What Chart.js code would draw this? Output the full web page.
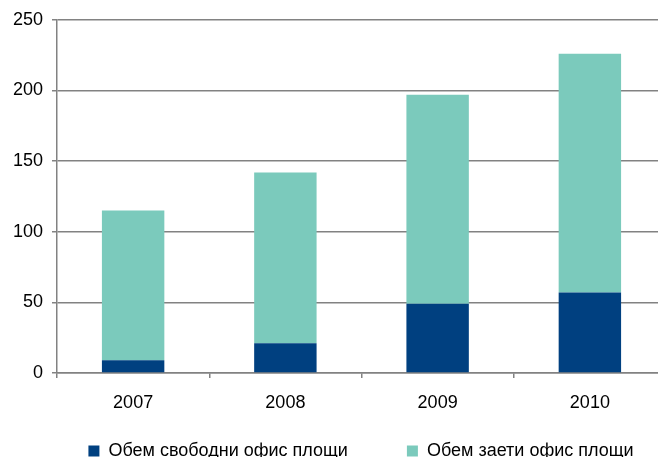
<!DOCTYPE html>
<html>
<head>
<meta charset="utf-8">
<script src="https://cdn.jsdelivr.net/npm/chart.js@4"></script>
<style>
  html, body { margin: 0; padding: 0; background: #fff; overflow: hidden; }
  #wrap { position: absolute; left: 0; top: 0; }
</style>
</head>
<body>
<div id="wrap"><canvas id="c" width="700" height="500"></canvas></div>
<script>
// Office space volumes by year (stacked: vacant + occupied)
const years = ['2007', '2008', '2009', '2010'];
const vacantSpace = [9, 21, 49, 57];
const occupiedSpace = [106, 121, 148, 169];
const seriesNames = ['Обем свободни офис площи', 'Обем заети офис площи'];
const yTicks = [0, 50, 100, 150, 200, 250];

const FONT = { family: '"Liberation Sans", Arial, sans-serif', size: 18 };
const GRID = '#828282';

// Shifts the bottom legend box after layout so it sits under the whole figure
const legendOffset = {
  id: 'legendOffset',
  afterLayout(chart, args, opts) {
    const lg = chart.legend;
    if (!lg) return;
    lg.left += opts.dx; lg.right += opts.dx;
    lg.top += opts.dy; lg.bottom += opts.dy;
  }
};

new Chart(document.getElementById('c'), {
  type: 'bar',
  data: {
    labels: years,
    datasets: [
      { label: seriesNames[0], data: vacantSpace, backgroundColor: '#004080' },
      { label: seriesNames[1], data: occupiedSpace, backgroundColor: '#7BCABC' }
    ]
  },
  plugins: [legendOffset],
  options: {
    responsive: false,
    animation: false,
    devicePixelRatio: 1,
    layout: { padding: { top: 18, right: 34, bottom: 0, left: 0 } },
    datasets: { bar: { barPercentage: 0.41, categoryPercentage: 1 } },
    scales: {
      x: {
        stacked: true,
        afterFit: s => { s.height = 40; },
        grid: { offset: true, drawOnChartArea: false, drawTicks: true, tickLength: 5, color: GRID, lineWidth: 1.5 },
        border: { color: GRID, width: 1.5 },
        ticks: { color: '#000', font: FONT, padding: 14 }
      },
      y: {
        stacked: true,
        min: 0,
        max: 250,
        afterFit: s => { s.width = 57; },
        afterBuildTicks: s => { s.ticks = yTicks.map(v => ({ value: v })); },
        grid: { color: GRID, lineWidth: 1.5, tickLength: 5 },
        border: { color: GRID, width: 1.5 },
        ticks: { color: '#000', font: FONT, padding: 9 }
      }
    },
    plugins: {
      legendOffset: { dx: 28, dy: -30 },
      tooltip: { enabled: false },
      legend: {
        position: 'bottom',
        labels: {
          color: '#000',
          font: FONT,
          boxWidth: 11,
          boxHeight: 11,
          padding: 59
        }
      }
    }
  }
});
</script>
</body>
</html>
